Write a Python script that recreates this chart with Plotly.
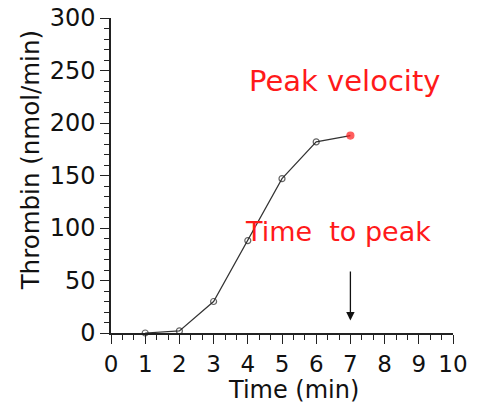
import plotly.graph_objects as go

# Thrombin generation curve
time_min = [1, 2, 3, 4, 5, 6, 7]
thrombin = [0, 2, 30, 88, 147, 182, 188]

x_ticks = list(range(0, 11))
y_ticks = [0, 50, 100, 150, 200, 250, 300]

FONT = "DejaVu Sans"
RED = "#ff1a1a"
AX = "#222222"

peak_idx = thrombin.index(max(thrombin))
peak_t = time_min[peak_idx]

symbols = ["circle-open"] * len(time_min)
colors = ["#222222"] * len(time_min)
sizes = [6] * len(time_min)
symbols[peak_idx] = "circle"
colors[peak_idx] = RED
sizes[peak_idx] = 7

fig = go.Figure()
fig.add_trace(go.Scatter(
    x=time_min, y=thrombin, mode="lines+markers",
    line=dict(color="#333333", width=1.2),
    marker=dict(symbol=symbols, color=colors, size=sizes,
                line=dict(color=colors, width=1.2)),
    cliponaxis=False, showlegend=False,
))

axis_common = dict(
    showline=True, linecolor=AX, linewidth=1.5, showgrid=False, zeroline=False,
    ticks="outside", ticklen=9, tickwidth=1.3, tickcolor=AX, automargin=False,
)

fig.update_xaxes(
    range=[0, 10], tickmode="array", tickvals=x_ticks, ticktext=[str(v) for v in x_ticks],
    minor=dict(dtick=1 / 3, tick0=0, ticks="outside", ticklen=5, tickwidth=1, tickcolor=AX),
    ticklabelstandoff=1,
    tickfont=dict(family=FONT, size=23, color="#111111"),
    **axis_common,
)
fig.update_yaxes(
    range=[0, 300], tickmode="array", tickvals=y_ticks, ticktext=[str(v) for v in y_ticks],
    minor=dict(dtick=10, tick0=0, ticks="outside", ticklen=5, tickwidth=1, tickcolor=AX),
    ticklabelstandoff=0,
    tickfont=dict(family=FONT, size=24, color="#111111"),
    **axis_common,
)

fig.add_annotation(
    text="Thrombin (nmol/min)", textangle=-90, xref="paper", yref="paper",
    x=-0.236, y=0.549, xanchor="center", yanchor="middle", showarrow=False,
    font=dict(family=FONT, size=24.5, color="#111111"),
)
fig.add_annotation(
    text="Time (min)", xref="paper", yref="paper",
    x=0.535, y=-0.18, xanchor="center", yanchor="middle", showarrow=False,
    font=dict(family=FONT, size=24, color="#111111"),
)
fig.add_annotation(
    text="Peak velocity", x=6.84, y=240, xref="x", yref="y",
    showarrow=False, font=dict(family=FONT, size=29, color=RED),
)
fig.add_annotation(
    text="Time\u00a0 to peak", x=6.64, y=97, xref="x", yref="y",
    showarrow=False, font=dict(family=FONT, size=27, color=RED),
)
fig.add_annotation(
    x=peak_t, y=12, ax=peak_t, ay=60, xref="x", yref="y", axref="x", ayref="y",
    text="", showarrow=True, arrowhead=2, arrowsize=1.3, arrowwidth=1.3, arrowcolor="#111111",
)

fig.update_layout(
    width=479, height=405,
    margin=dict(l=111, r=26, t=18, b=72),
    paper_bgcolor="white", plot_bgcolor="white",
)

fig.write_html("out.html")
